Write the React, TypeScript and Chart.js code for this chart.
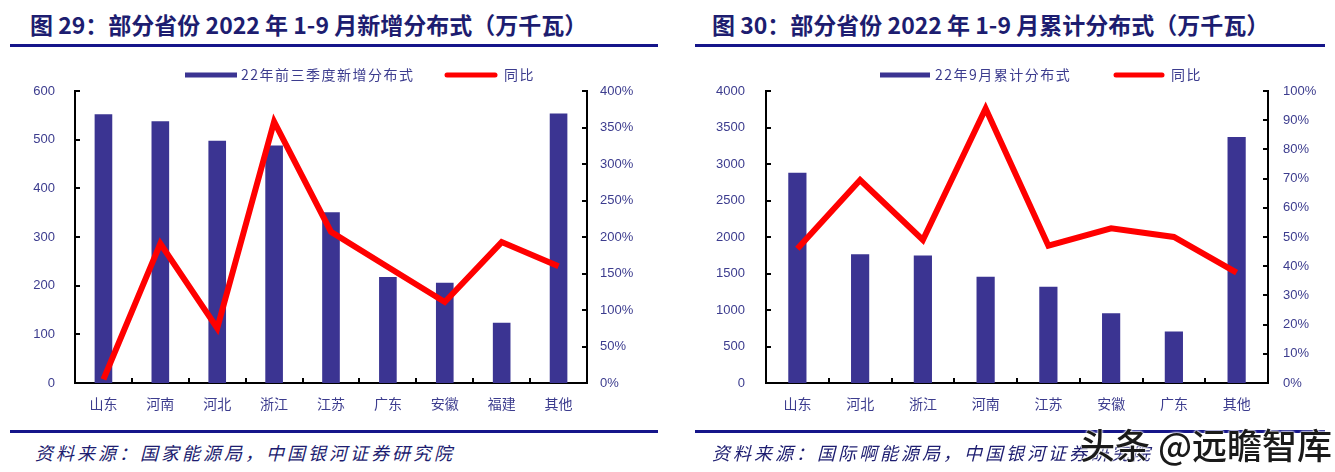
import React, { useEffect, useRef } from "react";
import { Chart, registerables } from "chart.js";

Chart.register(...registerables);

// ---------- data ----------
const categoriesA = ["山东", "河南", "河北", "浙江", "江苏", "广东", "安徽", "福建", "其他"];
const newInstalledA = [552, 538, 498, 488, 351, 218, 206, 124, 554];
const yoyA = [0.05, 1.91, 0.75, 3.58, 2.07, 1.59, 1.11, 1.93, 1.6];

const categoriesB = ["山东", "河北", "浙江", "河南", "江苏", "安徽", "广东", "其他"];
const cumulativeB = [2880, 1763, 1745, 1457, 1320, 957, 705, 3371];
const yoyB = [0.46, 0.695, 0.49, 0.94, 0.47, 0.53, 0.5, 0.378];

const barLabelA = "22年前三季度新增分布式";
const barLabelB = "22年9月累计分布式";
const lineLabel = "同比";

const BAR_COLOR = "#3b3492";
const LINE_COLOR = "#ff0000";
const TEXT_COLOR = "#3c3c8e";
const NAVY = "#15158a";
const TITLE_COLOR = "#1d1d70";

const CJK = '"Noto Sans CJK SC", "Noto Sans", sans-serif';
const NUM = '"Liberation Sans", Arial, sans-serif';

// ---------- plugins ----------
const legendPlugin = {
  id: "customLegend",
  afterDraw(chart: any, _args: any, opts: any) {
    const ctx = chart.ctx;
    ctx.save();
    const y = opts.y;
    chart.data.datasets.forEach((ds: any, i: number) => {
      const item = opts.items[i];
      const isLine = ds.type === "line";
      if (isLine) {
        ctx.strokeStyle = ds.borderColor;
        ctx.lineWidth = 5;
        ctx.lineCap = "round";
        ctx.beginPath();
        ctx.moveTo(item.box + 2, y);
        ctx.lineTo(item.box + opts.boxWidth - 2, y);
        ctx.stroke();
      } else {
        ctx.fillStyle = ds.backgroundColor;
        ctx.fillRect(item.box, y - 2.5, opts.boxWidth, 5);
      }
      ctx.fillStyle = TEXT_COLOR;
      ctx.font = `14px ${CJK}`;
      ctx.textBaseline = "middle";
      ctx.textAlign = "left";
      try {
        (ctx as any).letterSpacing = "1.5px";
      } catch (e) {}
      ctx.fillText(ds.label, item.text, y);
      try {
        (ctx as any).letterSpacing = "0px";
      } catch (e) {}
    });
    ctx.restore();
  },
};

const innerTicksPlugin = {
  id: "innerTicks",
  afterDraw(chart: any) {
    const { ctx, scales, chartArea } = chart;
    const L = 5;
    ctx.save();
    ctx.strokeStyle = "#000";
    ctx.lineWidth = 2;
    ctx.beginPath();
    const y = scales.y;
    y.ticks.forEach((_t: any, i: number) => {
      const py = Math.round(y.getPixelForTick(i));
      ctx.moveTo(chartArea.left, py);
      ctx.lineTo(chartArea.left + L, py);
    });
    const y1 = scales.y1;
    y1.ticks.forEach((_t: any, i: number) => {
      const py = Math.round(y1.getPixelForTick(i));
      ctx.moveTo(chartArea.right, py);
      ctx.lineTo(chartArea.right - L, py);
    });
    const x = scales.x;
    const n = chart.data.labels.length;
    for (let i = 1; i < n; i++) {
      const px = Math.round(x.getPixelForValue(i - 0.5));
      ctx.moveTo(px, chartArea.bottom);
      ctx.lineTo(px, chartArea.bottom - L);
    }
    ctx.stroke();
    ctx.restore();
  },
};

type Cfg = {
  labels: string[];
  bars: number[];
  yoy: number[];
  barLabel: string;
  yMax: number;
  yStep: number;
  y1Max: number;
  y1Step: number;
  leftWidth: number;
  rightWidth: number;
  leftPad: number;
  rightPad: number;
  barPct: number;
  legend: any;
};

function ComboChart({ cfg, width, height }: { cfg: Cfg; width: number; height: number }) {
  const ref = useRef<HTMLCanvasElement | null>(null);
  useEffect(() => {
    if (!ref.current) return;
    const tickFont = { family: NUM, size: 13 };
    const chart = new Chart(ref.current, {
      type: "bar",
      data: {
        labels: cfg.labels,
        datasets: [
          {
            type: "bar",
            label: cfg.barLabel,
            data: cfg.bars,
            backgroundColor: BAR_COLOR,
            borderWidth: 0,
            categoryPercentage: 1,
            barPercentage: cfg.barPct,
            yAxisID: "y",
            order: 1,
          } as any,
          {
            type: "line",
            label: lineLabel,
            data: cfg.yoy,
            borderColor: LINE_COLOR,
            backgroundColor: LINE_COLOR,
            borderWidth: 6,
            pointRadius: 0,
            borderJoinStyle: "miter",
            borderCapStyle: "butt",
            tension: 0,
            yAxisID: "y1",
            order: 0,
          } as any,
        ],
      },
      options: {
        animation: false,
        responsive: false,
        maintainAspectRatio: false,
        layout: { padding: { top: 36, left: 0, right: 0, bottom: 0 } },
        plugins: {
          legend: { display: false },
          tooltip: { enabled: false },
          customLegend: cfg.legend,
        } as any,
        scales: {
          x: {
            grid: { display: false, drawTicks: false },
            border: { display: true, color: "#000", width: 2 },
            ticks: { color: TEXT_COLOR, font: { family: CJK, size: 14 }, padding: 12 },
            afterFit: (s: any) => {
              s.height = 42;
            },
          },
          y: {
            position: "left",
            min: 0,
            max: cfg.yMax,
            grid: { display: false, drawTicks: false },
            border: { display: true, color: "#000", width: 2 },
            ticks: {
              stepSize: cfg.yStep,
              color: TEXT_COLOR,
              font: tickFont,
              padding: cfg.leftPad,
              callback: (v: any) => String(Math.round(Number(v))),
            },
            afterFit: (s: any) => {
              s.width = cfg.leftWidth;
            },
          },
          y1: {
            position: "right",
            min: 0,
            max: cfg.y1Max,
            grid: { display: false, drawTicks: false },
            border: { display: true, color: "#000", width: 2 },
            ticks: {
              stepSize: cfg.y1Step,
              color: TEXT_COLOR,
              font: tickFont,
              padding: cfg.rightPad,
              callback: (v: any) => Math.round(Number(v) * 100) + "%",
            },
            afterFit: (s: any) => {
              s.width = cfg.rightWidth;
            },
          },
        },
      } as any,
      plugins: [legendPlugin, innerTicksPlugin],
    });
    return () => chart.destroy();
  }, [cfg]);
  return <canvas ref={ref} width={width} height={height} style={{ display: "block", width, height }} />;
}

const cfgA: Cfg = {
  labels: categoriesA,
  bars: newInstalledA,
  yoy: yoyA,
  barLabel: barLabelA,
  yMax: 600,
  yStep: 100,
  y1Max: 4,
  y1Step: 0.5,
  leftWidth: 75,
  rightWidth: 80,
  leftPad: 20,
  rightPad: 13,
  barPct: 0.31,
  legend: { y: 20, boxWidth: 52, items: [{ box: 185, text: 241 }, { box: 445, text: 504 }] },
};

const cfgB: Cfg = {
  labels: categoriesB,
  bars: cumulativeB,
  yoy: yoyB,
  barLabel: barLabelB,
  yMax: 4000,
  yStep: 500,
  y1Max: 1,
  y1Step: 0.1,
  leftWidth: 99,
  rightWidth: 67,
  leftPad: 21,
  rightPad: 15,
  barPct: 0.29,
  legend: { y: 20, boxWidth: 50, items: [{ box: 213, text: 268 }, { box: 447, text: 504 }] },
};

const titleStyle: React.CSSProperties = {
  position: "absolute",
  top: 9,
  fontFamily: CJK,
  fontWeight: 700,
  fontSize: 23,
  color: TITLE_COLOR,
  whiteSpace: "nowrap",
  lineHeight: "30px",
};

const sourceStyle: React.CSSProperties = {
  position: "absolute",
  top: 440,
  fontFamily: CJK,
  fontStyle: "italic",
  fontSize: 18,
  letterSpacing: 3,
  color: TITLE_COLOR,
  whiteSpace: "nowrap",
  lineHeight: "24px",
};

function Rule({ left, top, width }: { left: number; top: number; width: number }) {
  return <div style={{ position: "absolute", left, top, width, height: 3, background: NAVY }} />;
}

export default function App() {
  return (
    <div style={{ position: "absolute", left: 0, top: 0, width: 1335, height: 472, background: "#fff", overflow: "hidden" }}>
      <div style={{ ...titleStyle, left: 30 }}>图 29：部分省份 2022 年 1-9 月新增分布式（万千瓦）</div>
      <div style={{ ...titleStyle, left: 712 }}>图 30：部分省份 2022 年 1-9 月累计分布式（万千瓦）</div>
      <Rule left={10} top={44} width={648} />
      <Rule left={695} top={44} width={630} />
      <div style={{ position: "absolute", left: 0, top: 55 }}>
        <ComboChart cfg={cfgA} width={667} height={370} />
      </div>
      <div style={{ position: "absolute", left: 667, top: 55 }}>
        <ComboChart cfg={cfgB} width={668} height={370} />
      </div>
      <Rule left={10} top={430} width={648} />
      <Rule left={695} top={430} width={630} />
      <div style={{ ...sourceStyle, left: 35 }}>资料来源：国家能源局，中国银河证券研究院</div>
      <div style={{ ...sourceStyle, left: 712 }}>资料来源：国际啊能源局，中国银河证券研究院</div>
      <div
        style={{
          position: "absolute",
          left: 1080,
          top: 422,
          fontFamily: CJK,
          fontSize: 35,
          fontWeight: 500,
          color: "#1a1a1a",
          whiteSpace: "nowrap",
          lineHeight: "44px",
          textShadow: "0 0 2px #fff, 0 0 2px #fff, 0 0 3px #fff",
        }}
      >
        头条 @远瞻智库
      </div>
    </div>
  );
}
